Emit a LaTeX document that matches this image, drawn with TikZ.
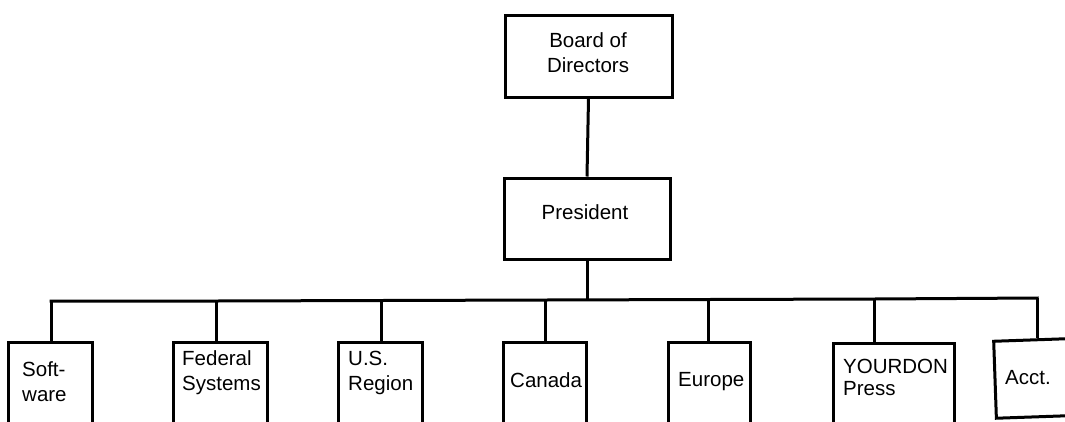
\documentclass[tikz,border=0pt]{standalone}
\usepackage{fontspec}
\setmainfont{Liberation Sans}
\tikzset{
  box/.style={draw=black, line width=3pt, rectangle, inner sep=0pt, fill=white},
  link/.style={draw=black, line width=3pt},
  txt/.style={inner sep=0pt, anchor=north west, align=left, font=\fontsize{20.5}{25}\selectfont},
  ctxt/.style={inner sep=0pt, anchor=north, align=center, font=\fontsize{20.5}{25}\selectfont},
}
\begin{document}
\begin{tikzpicture}[x=1pt,y=-1pt]
\useasboundingbox (0,0) rectangle (1065,421);
\clip (0,0) rectangle (1065,421);
% top boxes
\node[box, minimum width=167pt, minimum height=82pt] (board) at (588.5,56) {};
\node[ctxt] (boardtxt) at (588,32.5) {Board of\\Directors};
\node[box, minimum width=166pt, minimum height=81pt] (pres) at (587,218.5) {};
\node[ctxt] (prestxt) at (585,204.5) {President};
% bus coordinates
\coordinate (bp) at (587,300);
\coordinate (b1) at (51,301);
\coordinate (b2) at (216,301);
\coordinate (b3) at (381,300.5);
\coordinate (b4) at (545,300);
\coordinate (b5) at (708,299.5);
\coordinate (b6) at (874,299);
\coordinate (b7) at (1037,298);
% child boxes (extending below the page)
\node[box, minimum width=84pt, minimum height=120pt] (soft) at (50,402) {};
\node[box, minimum width=94pt, minimum height=120pt] (fed) at (220,402) {};
\node[box, minimum width=84pt, minimum height=120pt] (us) at (380,402) {};
\node[box, minimum width=83pt, minimum height=120pt] (can) at (544.5,402) {};
\node[box, minimum width=82pt, minimum height=120pt] (eur) at (709,402) {};
\node[box, minimum width=121pt, minimum height=120pt] (your) at (893.5,403) {};
\node[box, minimum width=100pt, minimum height=77pt, rotate=2] (acct) at (1045,378) {};
% connectors
\draw[link] (board.south) -- (pres.north);
\draw[link] (pres.south) -- (bp);
\draw[link, line cap=rect] (b1) -- (b2) -- (b3) -- (b4) -- (b5) -- (b6) -- (b7);
\draw[link] (b1) -- (soft.north -| b1);
\draw[link] (b2) -- (fed.north -| b2);
\draw[link] (b3) -- (us.north -| b3);
\draw[link] (b4) -- (can.north -| b4);
\draw[link] (b5) -- (eur.north -| b5);
\draw[link] (b6) -- (your.north -| b6);
\draw[link] (b7) -- ++(0,39.5);
% texts
\node[txt] (softtxt) at (22,361.5) {Soft-\\ware};
\node[txt] (fedtxt) at (182,350.5) {Federal\\Systems};
\node[txt] (ustxt) at (348,350.5) {U.S.\\Region};
\node[txt] (cantxt) at (510,372.5) {Canada};
\node[txt] (eurtxt) at (678,372.5) {Europe};
\node[txt, font=\fontsize{20.5}{22}\selectfont] (yourtxt) at (843,358.5) {YOURDON\\Press};
\node[txt] (accttxt) at (1005,370.5) {Acct.};
\end{tikzpicture}
\end{document}
